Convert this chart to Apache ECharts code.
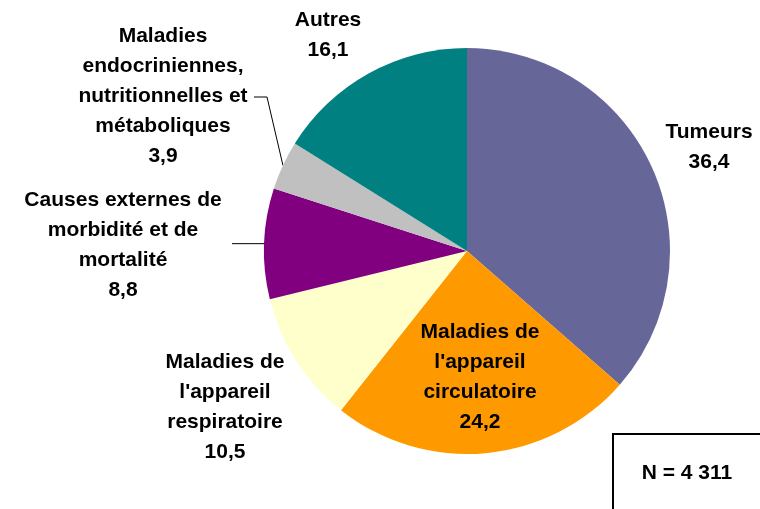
<!DOCTYPE html>
<html>
<head>
<meta charset="utf-8">
<script src="https://cdn.jsdelivr.net/npm/echarts@6/dist/echarts.min.js"></script>
<style>
  html, body { margin: 0; padding: 0; background: #fff; }
  #chart { width: 760px; height: 509px; }
</style>
</head>
<body>
<div id="chart"></div>
<script>
const categories = [
  'Tumeurs',
  "Maladies de\nl'appareil\ncirculatoire",
  "Maladies de\nl'appareil\nrespiratoire",
  'Causes externes de\nmorbidité et de\nmortalité',
  'Maladies\nendocriniennes,\nnutritionnelles et\nmétaboliques',
  'Autres'
]
const values = [36.4, 24.2, 10.5, 8.8, 3.9, 16.1]
const colors = ['#666699', '#FF9900', '#FFFFCC', '#800080', '#C0C0C0', '#008080']
const totalLabel = 'N = 4 311'

// label centres (text placement only)
const labelPos = [
  [709, 147],
  [480, 377],
  [225, 407],
  [123, 245],
  [163, 96],
  [328, 35]
]
const withLine = [false, false, false, true, true, false]

const chart = echarts.init(document.getElementById('chart'), null, { renderer: 'canvas' })

const fmt = v => v.toFixed(1).replace('.', ',')

const option = {
  animation: false,
  backgroundColor: '#fff',
  textStyle: { fontFamily: '"Liberation Sans", Arial, sans-serif' },
  series: [
    {
      type: 'pie',
      center: [467, 251],
      radius: 203,
      startAngle: 90,
      clockwise: true,
      avoidLabelOverlap: false,
      itemStyle: { borderWidth: 0 },
      label: {
        show: true,
        position: 'outside',
        color: '#000',
        fontSize: 21,
        fontWeight: 'bold',
        lineHeight: 30,
        align: 'center',
        formatter: p => p.name + '\n' + fmt(p.value)
      },
      labelLine: {
        show: true,
        lineStyle: { color: '#000', width: 1 }
      },
      labelLayout: params => {
        const i = params.dataIndex
        const p = labelPos[i]
        const out = { x: p[0], y: p[1], align: 'center', verticalAlign: 'middle' }
        if (withLine[i] && params.labelLinePoints) {
          const start = params.labelLinePoints[0]
          if (i === 4) {
            out.labelLinePoints = [start, [p[0] + 104, p[1] + 1], [p[0] + 91, p[1] + 1]]
          } else {
            out.labelLinePoints = [start, [(start[0] + p[0] + 109) / 2, start[1]], [p[0] + 109, start[1]]]
          }
        }
        return out
      },
      data: categories.map((c, i) => ({
        name: c,
        value: values[i],
        itemStyle: { color: colors[i] },
        labelLine: { show: withLine[i] },
        label: i === 1 ? { position: 'inside' } : {}
      }))
    }
  ],
  graphic: [
    {
      type: 'rect',
      shape: { x: 613, y: 434, width: 170, height: 100 },
      style: { fill: '#fff', stroke: '#000', lineWidth: 2 }
    },
    {
      type: 'text',
      x: 687,
      y: 473,
      style: {
        text: totalLabel,
        fill: '#000',
        font: 'bold 21px "Liberation Sans", Arial, sans-serif',
        align: 'center',
        verticalAlign: 'middle'
      }
    }
  ]
}

chart.setOption(option)
</script>
</body>
</html>
